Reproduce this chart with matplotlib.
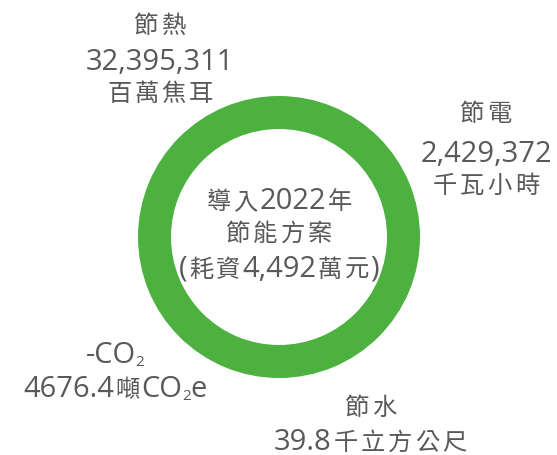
import matplotlib
matplotlib.use("Agg")
import matplotlib.pyplot as plt

# data
ring_values = [1]
center_lines = ["導入2022年", "節能方案", "(耗資4,492萬元)"]
heat_lines = ["節熱", "32,395,311", "百萬焦耳"]
power_lines = ["節電", "2,429,372", "千瓦小時"]
co2_lines = [
    [("-CO", "latin"), ("2", "sub")],
    [("4676.4", "latin"), ("噸", "cjk"), ("CO", "latin"), ("2", "sub"), ("e", "latin")],
]
water_lines = ["節水", "39.8千立方公尺"]

GREEN = "#4cb13f"
GRAY = "#595959"
FONTS = {
    "latin": dict(family="Open Sans", size=21, dy=0, pad=0),
    "cjk": dict(family="Noto Sans CJK TC", size=17.5, dy=0, pad=3),
    "sub": dict(family="Open Sans", size=11, dy=3, pad=0),
}

fig = plt.figure(figsize=(5.57, 4.56), dpi=100)
ax = fig.add_axes([0, 0, 1, 1])

ax.pie(ring_values, colors=[GREEN], radius=141, center=(279, 238),
       startangle=90, wedgeprops=dict(width=33, edgecolor="none"))

ax.set_xlim(0, 557)
ax.set_ylim(456, 0)
ax.set_aspect("equal")
ax.axis("off")

renderer = fig.canvas.get_renderer()


def split_runs(s):
    # Latin runs stay together, CJK characters go one by one (for letter spacing)
    runs = []
    for ch in s:
        kind = "cjk" if ord(ch) > 0x2E80 else "latin"
        if kind == "latin" and runs and runs[-1][1] == "latin":
            runs[-1] = (runs[-1][0] + ch, kind)
        else:
            runs.append((ch, kind))
    return runs


def draw_line(runs, x, baseline):
    # lay the runs out left to right, centred on x, sharing one baseline
    if isinstance(runs, str):
        runs = split_runs(runs)
    texts, pads = [], []
    for s, kind in runs:
        f = FONTS[kind]
        t = ax.text(0, baseline + f["dy"], s, ha="left", va="baseline",
                    family=f["family"], fontsize=f["size"], color=GRAY)
        texts.append(t)
        pads.append(f["pad"])
    widths = [t.get_window_extent(renderer).width + p for t, p in zip(texts, pads)]
    left = x - sum(widths) / 2
    for t, w, p in zip(texts, widths, pads):
        t.set_x(left + p / 2)
        left += w


def block(lines, x, baselines):
    for line, b in zip(lines, baselines):
        draw_line(line, x, b)


block(center_lines, 279, [209, 241, 277])
block(heat_lines, 160, [33, 70, 101])
block(power_lines, 486, [121, 162, 193])
block(co2_lines, 115, [363, 397])
block(water_lines, 371, [415, 450])

fig.savefig("out.png", dpi=100)
